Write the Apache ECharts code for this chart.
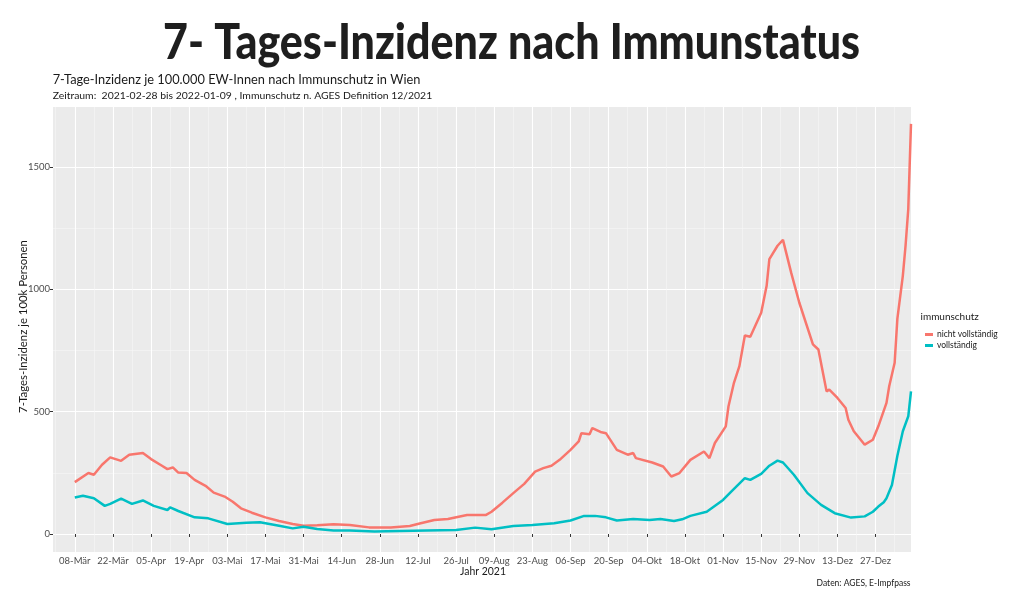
<!DOCTYPE html>
<html>
<head>
<meta charset="utf-8">
<script src="https://cdn.jsdelivr.net/npm/echarts@6/dist/echarts.min.js"></script>
<style>
html,body{margin:0;padding:0;background:#ffffff;}
#chart{width:1024px;height:591px;}
</style>
</head>
<body>
<div id="chart"></div>
<script>
// ---------- data ----------
const redDates = ['2021-03-08','2021-03-13','2021-03-15','2021-03-18','2021-03-21','2021-03-25','2021-03-28','2021-04-02','2021-04-05','2021-04-09','2021-04-11','2021-04-13','2021-04-15','2021-04-18','2021-04-21','2021-04-25','2021-04-28','2021-05-02','2021-05-05','2021-05-08','2021-05-12','2021-05-17','2021-05-22','2021-05-27','2021-05-31','2021-06-05','2021-06-11','2021-06-17','2021-06-24','2021-07-02','2021-07-09','2021-07-13','2021-07-18','2021-07-23','2021-07-30','2021-08-06','2021-08-08','2021-08-12','2021-08-16','2021-08-20','2021-08-24','2021-08-27','2021-08-30','2021-09-02','2021-09-06','2021-09-09','2021-09-10','2021-09-13','2021-09-14','2021-09-17','2021-09-19','2021-09-23','2021-09-27','2021-09-29','2021-09-30','2021-10-06','2021-10-10','2021-10-13','2021-10-16','2021-10-20','2021-10-25','2021-10-27','2021-10-29','2021-11-02','2021-11-03','2021-11-05','2021-11-07','2021-11-09','2021-11-11','2021-11-15','2021-11-17','2021-11-18','2021-11-21','2021-11-23','2021-11-26','2021-11-29','2021-12-04','2021-12-06','2021-12-09','2021-12-10','2021-12-13','2021-12-16','2021-12-17','2021-12-19','2021-12-23','2021-12-26','2021-12-28','2021-12-31','2022-01-01','2022-01-03','2022-01-04','2022-01-06','2022-01-07','2022-01-08','2022-01-09'];
const redValues = [212,249,242,283,313,299,324,331,306,279,265,272,251,249,221,197,169,153,132,105,87,68,53,41,34,36,40,37,27,27,33,44,57,61,78,78,91,128,167,205,255,269,279,303,344,378,412,408,433,417,412,344,324,331,310,292,276,235,249,303,337,310,372,440,522,618,686,811,806,904,1014,1123,1178,1202,1068,945,775,754,583,590,556,515,467,420,365,385,440,536,604,700,880,1055,1178,1328,1676];

const tealDates = ['2021-03-08','2021-03-11','2021-03-15','2021-03-19','2021-03-21','2021-03-25','2021-03-29','2021-04-02','2021-04-06','2021-04-11','2021-04-12','2021-04-15','2021-04-21','2021-04-26','2021-05-03','2021-05-10','2021-05-15','2021-05-22','2021-05-27','2021-05-31','2021-06-05','2021-06-11','2021-06-17','2021-06-26','2021-07-15','2021-07-26','2021-08-02','2021-08-08','2021-08-16','2021-08-23','2021-08-31','2021-09-06','2021-09-11','2021-09-15','2021-09-19','2021-09-23','2021-09-29','2021-10-05','2021-10-09','2021-10-14','2021-10-17','2021-10-20','2021-10-26','2021-11-01','2021-11-04','2021-11-09','2021-11-11','2021-11-15','2021-11-18','2021-11-21','2021-11-23','2021-11-27','2021-12-02','2021-12-07','2021-12-12','2021-12-18','2021-12-23','2021-12-26','2021-12-28','2021-12-30','2021-12-31','2022-01-02','2022-01-04','2022-01-06','2022-01-08','2022-01-09'];
const tealValues = [149,156,146,115,123,145,123,137,115,98,109,94,68,64,41,46,48,34,23,30,20,14,14,10,14,16,26,19,33,37,44,55,74,74,68,55,61,57,61,53,60,74,91,139,173,228,221,246,279,300,292,242,167,119,85,67,72,91,112,130,146,200,320,420,481,583];

const seriesNames = ['nicht vollständig', 'vollständig'];

const tickDates = ['2021-03-08','2021-03-22','2021-04-05','2021-04-19','2021-05-03','2021-05-17','2021-05-31','2021-06-14','2021-06-28','2021-07-12','2021-07-26','2021-08-09','2021-08-23','2021-09-06','2021-09-20','2021-10-04','2021-10-18','2021-11-01','2021-11-15','2021-11-29','2021-12-13','2021-12-27'];
const tickLabels = ['08-Mär','22-Mär','05-Apr','19-Apr','03-Mai','17-Mai','31-Mai','14-Jun','28-Jun','12-Jul','26-Jul','09-Aug','23-Aug','06-Sep','20-Sep','04-Okt','18-Okt','01-Nov','15-Nov','29-Nov','13-Dez','27-Dez'];
const yTicks = [0, 500, 1000, 1500];
const yMinorTicks = [250, 750, 1250];

const axisStart = '2021-02-28';
const axisEnd = '2022-01-09';

// ---------- texts ----------
const mainTitle = '7- Tages-Inzidenz nach Immunstatus';
const subTitle1 = '7-Tage-Inzidenz je 100.000 EW-Innen nach Immunschutz in Wien';
const subTitle2 = 'Zeitraum:  2021-02-28 bis 2022-01-09 , Immunschutz n. AGES Definition 12/2021';
const yName = '7-Tages-Inzidenz je 100k Personen';
const xName = 'Jahr 2021';
const caption = 'Daten: AGES, E-Impfpass';
const legendTitle = 'immunschutz';

// ---------- helpers ----------
const DAY = 86400000;
function parseD(s){ const p = s.split('-').map(Number); return Date.UTC(p[0], p[1]-1, p[2]); }
function fmtD(t){ return new Date(t).toISOString().slice(0,10); }
const categories = [];
for (let t = parseD(axisStart); t <= parseD(axisEnd); t += DAY) categories.push(fmtD(t));
const tickSet = new Set(tickDates);
const minorSet = new Set();
minorSet.add(fmtD(parseD(tickDates[0]) - 7*DAY));
tickDates.forEach(d => minorSet.add(fmtD(parseD(d) + 7*DAY)));
const labelMap = {};
tickDates.forEach((d,i) => labelMap[d] = tickLabels[i]);

const FONT = 'Lato';
const mctx = document.createElement('canvas').getContext('2d');
function measure(text, size, weight){ mctx.font = weight + ' ' + size + 'px ' + FONT; return mctx.measureText(text).width; }
function fitSize(text, weight, target, base){ return base * target / measure(text, base, weight); }

const titleSize = 50;
const titleScale = 697 / measure(mainTitle, titleSize, 900);
const sub1Size = fitSize(subTitle1, 400, 368, 13);
const sub2Size = fitSize(subTitle2, 400, 380, 10);
const yNameSize = fitSize(yName, 400, 173, 11);
const xNameSize = fitSize(xName, 400, 46, 12);
const capSize = fitSize(caption, 400, 94, 9);

const red = '#F8766D', teal = '#00BFC4';
const yMin = -73.6, yMax = 1745;

const chart = echarts.init(document.getElementById('chart'), null, {renderer: 'canvas'});
chart.setOption({
  animation: false,
  backgroundColor: '#ffffff',
  textStyle: {fontFamily: FONT},
  grid: {left: 53, right: 113, top: 107, bottom: 39, show: true, backgroundColor: '#EBEBEB', borderWidth: 0},
  legend: {
    data: seriesNames,
    orient: 'vertical', left: 920, top: 325,
    icon: 'rect', itemWidth: 8, itemHeight: 3, itemGap: 2,
    textStyle: {fontSize: 8.5, color: '#1a1a1a', fontFamily: FONT, padding: [0,0,0,-1]},
    selectedMode: false
  },
  xAxis: [
    {
      type: 'category', data: categories, boundaryGap: false, gridIndex: 0,
      axisLine: {show: false},
      axisTick: {show: true, length: 3, lineStyle: {color: '#333333', width: 1}, interval: (i, v) => tickSet.has(v)},
      axisLabel: {interval: (i, v) => tickSet.has(v), formatter: v => labelMap[v] || '', color: '#4D4D4D', fontSize: 9.5, margin: 4, fontFamily: FONT},
      splitLine: {show: true, interval: (i, v) => tickSet.has(v), lineStyle: {color: '#ffffff', width: 1.1}}
    },
    {
      type: 'category', data: categories, boundaryGap: false, gridIndex: 0, position: 'bottom',
      axisLine: {show: false}, axisTick: {show: false}, axisLabel: {show: false},
      splitLine: {show: true, interval: (i, v) => minorSet.has(v), lineStyle: {color: '#F6F6F6', width: 0.6}}
    }
  ],
  yAxis: [
    {
      type: 'value', min: yMin, max: yMax,
      axisLine: {show: false},
      axisTick: {show: true, length: 3, lineStyle: {color: '#333333', width: 1}, customValues: yTicks},
      axisLabel: {customValues: yTicks, formatter: v => String(v), color: '#4D4D4D', fontSize: 9.5, margin: 3, fontFamily: FONT},
      splitLine: {show: true, lineStyle: {color: '#ffffff', width: 1.1}}
    },
    {
      type: 'value', min: yMin, max: yMax, position: 'left',
      axisLine: {show: false},
      axisTick: {show: false, customValues: yMinorTicks},
      axisLabel: {show: false, customValues: yMinorTicks},
      splitLine: {show: true, lineStyle: {color: '#F6F6F6', width: 0.6}}
    }
  ],
  series: [
    {
      name: seriesNames[0], type: 'line', xAxisIndex: 0, yAxisIndex: 0,
      data: redDates.map((d,i) => [d, redValues[i]]),
      showSymbol: false, symbol: 'none', smooth: false,
      lineStyle: {color: red, width: 2.5}, itemStyle: {color: red}, z: 3
    },
    {
      name: seriesNames[1], type: 'line', xAxisIndex: 0, yAxisIndex: 0,
      data: tealDates.map((d,i) => [d, tealValues[i]]),
      showSymbol: false, symbol: 'none', smooth: false,
      lineStyle: {color: teal, width: 2.5}, itemStyle: {color: teal}, z: 4
    }
  ],
  graphic: [
    {type: 'text', x: 511.5, y: 43, scaleX: titleScale, style: {text: mainTitle, x: 0, y: 0, align: 'center', verticalAlign: 'middle', fontFamily: FONT, fontWeight: 900, fontSize: titleSize, fill: '#1e1e1e'}},
    {type: 'text', x: 52.7, y: 79.5, style: {text: subTitle1, align: 'left', verticalAlign: 'middle', fontFamily: FONT, fontSize: sub1Size, fill: '#1a1a1a'}},
    {type: 'text', x: 52.7, y: 95.5, style: {text: subTitle2, align: 'left', verticalAlign: 'middle', fontFamily: FONT, fontSize: sub2Size, fill: '#1a1a1a'}},
    {type: 'text', x: 23.5, y: 326.5, rotation: Math.PI/2, style: {text: yName, x: 0, y: 0, align: 'center', verticalAlign: 'middle', fontFamily: FONT, fontSize: yNameSize, fill: '#1a1a1a'}},
    {type: 'text', x: 483, y: 571.5, style: {text: xName, align: 'center', verticalAlign: 'middle', fontFamily: FONT, fontSize: xNameSize, fill: '#1a1a1a'}},
    {type: 'text', x: 910.5, y: 583, style: {text: caption, align: 'right', verticalAlign: 'middle', fontFamily: FONT, fontSize: capSize, fill: '#1a1a1a'}},
    {type: 'text', x: 920.5, y: 316.5, style: {text: legendTitle, align: 'left', verticalAlign: 'middle', fontFamily: FONT, fontSize: 10, fill: '#1a1a1a'}}
  ]
});
</script>
</body>
</html>
